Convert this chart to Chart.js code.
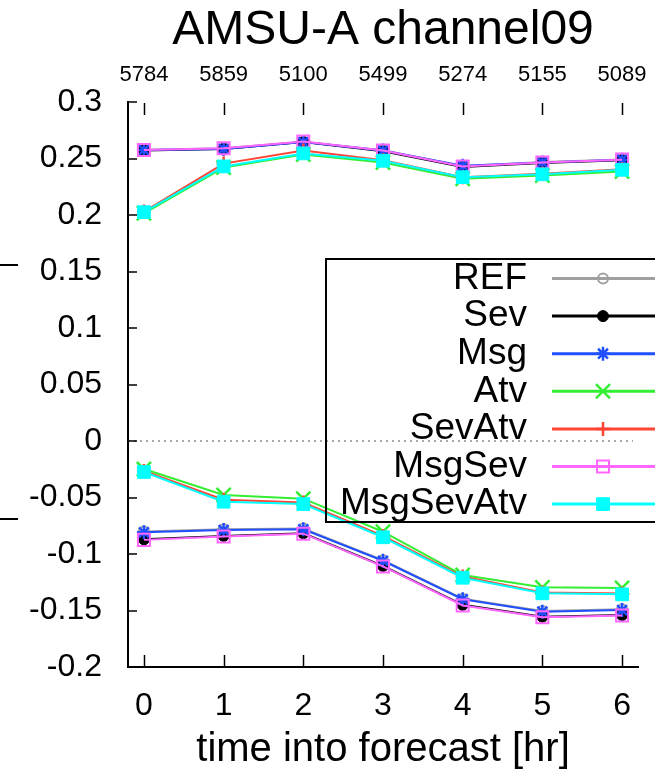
<!DOCTYPE html>
<html>
<head>
<meta charset="utf-8">
<script src="https://cdn.jsdelivr.net/npm/chart.js@4/dist/chart.umd.min.js"></script>
<style>
  html, body { margin: 0; padding: 0; background: #fff; }
  #wrap { width: 671px; height: 779px; position: relative; }
</style>
</head>
<body>
<div id="wrap"><canvas id="chart"></canvas></div>
<script>
// forecast hours and the obs counts shown on the top axis
const hours = [0, 1, 2, 3, 4, 5, 6];
const counts = [5784, 5859, 5100, 5499, 5274, 5155, 5089];

const seriesNames = ['REF', 'Sev', 'Msg', 'Atv', 'SevAtv', 'MsgSev', 'MsgSevAtv'];

// upper curves
const refUpper       = [0.2578, 0.2590, 0.2648, 0.2572, 0.2432, 0.2468, 0.2492];
const sevUpper       = [0.2570, 0.2585, 0.2645, 0.2565, 0.2425, 0.2460, 0.2485];
const msgUpper       = [0.2575, 0.2585, 0.2645, 0.2570, 0.2435, 0.2465, 0.2490];
const atvUpper       = [0.2015, 0.2420, 0.2535, 0.2465, 0.2320, 0.2350, 0.2385];
const sevAtvUpper    = [0.2030, 0.2455, 0.2570, 0.2485, 0.2335, 0.2365, 0.2405];
const msgSevUpper    = [0.2575, 0.2590, 0.2650, 0.2570, 0.2430, 0.2465, 0.2490];
const msgSevAtvUpper = [0.2025, 0.2430, 0.2545, 0.2480, 0.2335, 0.2360, 0.2400];

// lower curves
const refLower       = [-0.0800, -0.0780, -0.0775, -0.1055, -0.1395, -0.1505, -0.1490];
const sevLower       = [-0.0870, -0.0840, -0.0817, -0.1106, -0.1450, -0.1555, -0.1540];
const msgLower       = [-0.0808, -0.0788, -0.0781, -0.1060, -0.1400, -0.1510, -0.1496];
const atvLower       = [-0.0248, -0.0478, -0.0510, -0.0803, -0.1186, -0.1295, -0.1300];
const sevAtvLower    = [-0.0265, -0.0520, -0.0545, -0.0840, -0.1200, -0.1340, -0.1350];
const msgSevLower    = [-0.0875, -0.0845, -0.0820, -0.1110, -0.1455, -0.1560, -0.1545];
const msgSevAtvLower = [-0.0274, -0.0537, -0.0558, -0.0852, -0.1210, -0.1348, -0.1357];

const upperSets = [refUpper, sevUpper, msgUpper, atvUpper, sevAtvUpper, msgSevUpper, msgSevAtvUpper];
const lowerSets = [refLower, sevLower, msgLower, atvLower, sevAtvLower, msgSevLower, msgSevAtvLower];

const styles = [
  { color: '#a0a0a0', pointStyle: 'circle',   radius: 5,   fill: 'rgba(0,0,0,0)', bw: 2 },
  { color: '#000000', pointStyle: 'circle',   radius: 5.5, fill: '#000000',       bw: 1 },
  { color: '#1f4fff', pointStyle: 'star',     radius: 7,   fill: '#1f4fff',       bw: 2.5 },
  { color: '#33ee33', pointStyle: 'crossRot', radius: 10,  fill: '#33ee33',       bw: 2.5 },
  { color: '#ff4433', pointStyle: 'cross',    radius: 7,   fill: '#ff4433',       bw: 2.5 },
  { color: '#ff66ff', pointStyle: 'rect',     radius: 8.5, fill: 'rgba(0,0,0,0)', bw: 2 },
  { color: '#00ffff', pointStyle: 'rect',     radius: 9,   fill: '#00ffff',       bw: 1 }
];

const FONT = "'Liberation Sans', Arial, sans-serif";

const datasets = [];
seriesNames.forEach((name, i) => {
  const s = styles[i];
  [upperSets[i], lowerSets[i]].forEach((vals, k) => {
    datasets.push({
      label: name,
      legendEntry: k === 0,
      data: hours.map((h, j) => ({ x: h, y: vals[j] })),
      borderColor: s.color,
      backgroundColor: s.fill,
      borderWidth: 2,
      pointStyle: s.pointStyle,
      pointRadius: s.radius,
      pointBorderColor: s.color,
      pointBackgroundColor: s.fill,
      pointBorderWidth: s.bw,
      tension: 0,
      order: 20 - i
    });
  });
});

// gnuplot-like frame: inward ticks, zero line, key box
const gnuFrame = {
  id: 'gnuFrame',
  afterDatasetsDraw(chart) {
    const { ctx, chartArea } = chart;
    const xs = chart.scales.x, ys = chart.scales.y;
    ctx.save();

    // dotted zero line
    const y0 = ys.getPixelForValue(0);
    ctx.strokeStyle = '#555';
    ctx.lineWidth = 1;
    ctx.setLineDash([2, 4]);
    ctx.beginPath();
    ctx.moveTo(chartArea.left, y0);
    ctx.lineTo(chartArea.right - 5, y0);
    ctx.stroke();
    ctx.setLineDash([]);

    // inward tick marks
    ctx.strokeStyle = '#000';
    ctx.lineWidth = 1.5;
    ys.ticks.forEach(t => {
      const py = Math.round(ys.getPixelForValue(t.value));
      ctx.beginPath();
      ctx.moveTo(chartArea.left, py);
      ctx.lineTo(chartArea.left + 9, py);
      ctx.stroke();
    });
    hours.forEach(h => {
      const px = Math.round(xs.getPixelForValue(h)) + 0.5;
      ctx.beginPath();
      ctx.moveTo(px, chartArea.bottom);
      ctx.lineTo(px, chartArea.bottom - 12);
      ctx.moveTo(px, chartArea.top + 1);
      ctx.lineTo(px, chartArea.top + 13);
      ctx.stroke();
    });

    // pieces of the neighbouring panel at the left edge
    ctx.lineWidth = 2;
    ctx.beginPath();
    ctx.moveTo(0, 265); ctx.lineTo(18, 265);
    ctx.moveTo(0, 519); ctx.lineTo(18, 519);
    ctx.stroke();

    // key
    const lg = { left: 326, top: 259, bottom: 522, right: 655, textRight: 527,
                 lineL: 552, lineR: 655, markX: 603, row0: 278.5, rowH: 37.6 };
    ctx.strokeStyle = '#000';
    ctx.lineWidth = 2;
    ctx.beginPath();
    ctx.moveTo(lg.right, lg.top);
    ctx.lineTo(lg.left, lg.top);
    ctx.lineTo(lg.left, lg.bottom);
    ctx.lineTo(lg.right, lg.bottom);
    ctx.stroke();

    ctx.font = '37px ' + FONT;
    ctx.textAlign = 'right';
    ctx.textBaseline = 'middle';
    let row = 0;
    chart.data.datasets.forEach(ds => {
      if (!ds.legendEntry) return;
      const y = lg.row0 + row * lg.rowH;
      ctx.fillStyle = '#000';
      ctx.fillText(ds.label, lg.textRight, y);
      ctx.strokeStyle = ds.borderColor;
      ctx.lineWidth = 3;
      ctx.beginPath();
      ctx.moveTo(lg.lineL, y);
      ctx.lineTo(lg.lineR, y);
      ctx.stroke();
      ctx.fillStyle = ds.pointBackgroundColor;
      ctx.strokeStyle = ds.pointBorderColor;
      ctx.lineWidth = ds.pointBorderWidth;
      Chart.helpers.drawPoint(ctx, {
        pointStyle: ds.pointStyle, radius: ds.pointRadius,
        borderWidth: ds.pointBorderWidth, rotation: 0
      }, lg.markX, y);
      row++;
    });
    ctx.restore();
  }
};

new Chart(document.getElementById('chart'), {
  type: 'line',
  data: { datasets },
  plugins: [gnuFrame],
  options: {
    responsive: true,
    maintainAspectRatio: false,
    animation: false,
    devicePixelRatio: 1,
    layout: { padding: { left: 0, right: 33, top: 0, bottom: 0 } },
    plugins: {
      legend: { display: false },
      tooltip: { enabled: false },
      title: {
        display: true,
        fullSize: false,
        text: 'AMSU-A channel09',
        color: '#000',
        font: { family: FONT, size: 48, weight: 'normal', lineHeight: 1.2 },
        padding: { top: 2, bottom: 0 }
      }
    },
    scales: {
      x: {
        type: 'linear',
        position: 'bottom',
        min: -0.2,
        max: 6.2,
        afterBuildTicks: s => { s.ticks = hours.map(v => ({ value: v })); },
        afterFit: s => { s.height = 112; },
        grid: { display: false, drawTicks: false },
        border: { display: true, color: '#000', width: 2 },
        ticks: {
          color: '#000',
          padding: 20,
          maxRotation: 0,
          font: { family: FONT, size: 32 },
          callback: v => String(v)
        },
        title: {
          display: true,
          text: 'time into forecast [hr]',
          color: '#000',
          font: { family: FONT, size: 40 },
          padding: { top: 5, bottom: 5 }
        }
      },
      x2: {
        type: 'linear',
        position: 'top',
        min: -0.2,
        max: 6.2,
        afterBuildTicks: s => { s.ticks = hours.map(v => ({ value: v })); },
        afterFit: s => { s.height = 42.4; },
        grid: { display: false, drawTicks: false },
        border: { display: false },
        ticks: {
          color: '#000',
          padding: 14,
          maxRotation: 0,
          font: { family: FONT, size: 22 },
          callback: v => String(counts[hours.indexOf(v)])
        }
      },
      y: {
        type: 'linear',
        position: 'left',
        min: -0.2,
        max: 0.3,
        afterBuildTicks: s => {
          const t = [];
          for (let k = 0; k <= 10; k++) t.push({ value: -0.2 + k * 0.05 });
          s.ticks = t;
        },
        afterFit: s => { s.width = 128; },
        grid: { display: false, drawTicks: false },
        border: { display: true, color: '#000', width: 2 },
        ticks: {
          color: '#000',
          padding: 26,
          font: { family: FONT, size: 32 },
          callback: v => String(Number(v.toFixed(2)))
        }
      }
    }
  }
});
</script>
</body>
</html>
